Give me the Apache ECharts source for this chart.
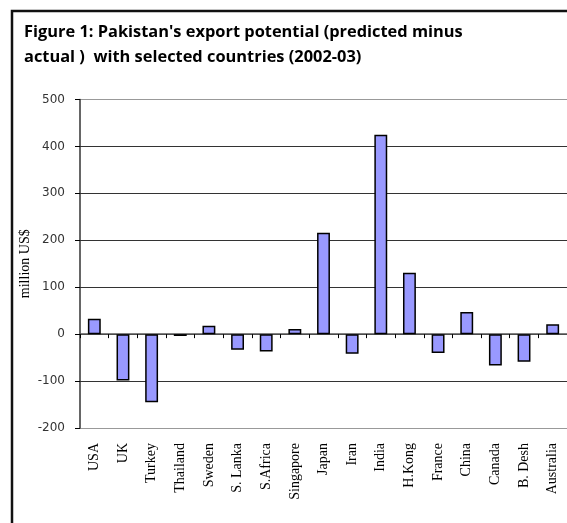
<!DOCTYPE html>
<html>
<head>
<meta charset="utf-8">
<script src="https://cdn.jsdelivr.net/npm/echarts@6/dist/echarts.min.js"></script>
<style>
html,body{margin:0;padding:0;background:#fff;}
#chart{width:567px;height:523px;}
</style>
</head>
<body>
<div id="chart"></div>
<script>
var categories = ['USA','UK','Turkey','Thailand','Sweden','S. Lanka','S.Africa','Singapore','Japan','Iran','India','H.Kong','France','China','Canada','B. Desh','Australia'];
var values = [33, -99, -145, -4, 18, -33, -37, 11, 216, -42, 425, 131, -40, 47, -67, -59, 21];
var yTicks = {min: -200, max: 500, interval: 100};
var titleLines = ["Figure 1: Pakistan's export potential (predicted minus", "actual )  with selected countries (2002-03)"];
var yName = 'million US$';

var chart = echarts.init(document.getElementById('chart'), null, {renderer: 'canvas'});
var gridColors = ['#999','#333','#333','#333','#333','#333','#333','#999'];
chart.setOption({
  animation: false,
  backgroundColor: '#fff',
  graphic: [{
    type: 'rect', left: 9.5, top: 8.5,
    shape: {width: 600, height: 560},
    style: {fill: 'none', stroke: '#111', lineWidth: 2.5},
    silent: true, z: 100
  }],
  title: {
    text: titleLines.join('\n'),
    left: 19, top: 15,
    textStyle: {fontFamily: 'Open Sans', fontWeight: 'bold', fontSize: 16.4, lineHeight: 25, color: '#000'}
  },
  grid: {left: 80, top: 99.5, width: 491, height: 328.5, containLabel: false},
  xAxis: [{
    type: 'category', data: categories, position: 'bottom',
    axisLine: {show: false, onZero: false},
    axisTick: {show: false},
    axisLabel: {rotate: 90, interval: 0, margin: 15, color: '#000', fontFamily: 'Liberation Serif', fontSize: 14}
  }, {
    type: 'category', data: categories, position: 'top',
    axisLine: {show: true, onZero: true, lineStyle: {color: '#555', width: 1.5}},
    axisTick: {show: true, inside: true, length: 4, interval: 0, lineStyle: {color: '#000'}},
    axisLabel: {show: false}
  }],
  yAxis: {
    type: 'value', min: yTicks.min, max: yTicks.max, interval: yTicks.interval,
    name: yName, nameLocation: 'middle', nameRotate: 90, nameGap: 48, nameMoveOverlap: false,
    nameTextStyle: {fontFamily: 'Liberation Serif', fontSize: 14, color: '#000'},
    axisLine: {show: true, lineStyle: {color: '#333', width: 1.5}},
    axisTick: {show: true, length: 5, lineStyle: {color: '#000'}},
    axisLabel: {margin: 15, color: '#333', fontFamily: 'DejaVu Sans', fontSize: 12},
    splitLine: {show: true, lineStyle: {color: gridColors, width: 1.2}}
  },
  series: [{
    type: 'bar', data: values, barWidth: '45%', xAxisIndex: 0,
    itemStyle: {color: '#9999FF', borderColor: '#000', borderWidth: 1.5}
  }]
});
</script>
</body>
</html>
